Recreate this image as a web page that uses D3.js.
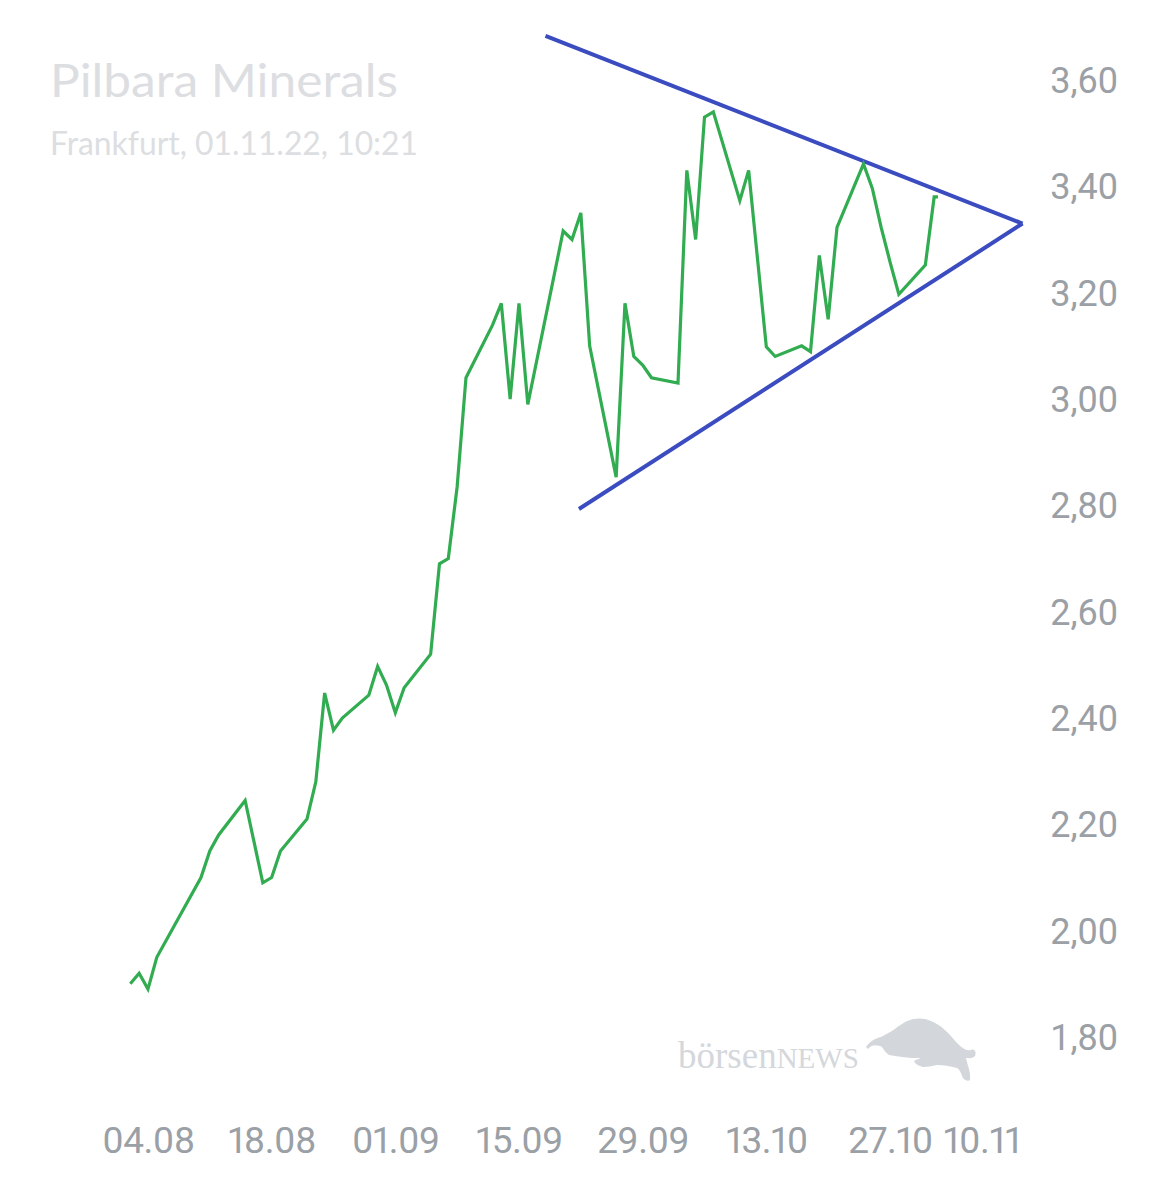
<!DOCTYPE html>
<html>
<head>
<meta charset="utf-8">
<script src="https://cdn.jsdelivr.net/npm/d3@7"></script>
<style>
  html, body { margin: 0; padding: 0; background: #fff; }
</style>
</head>
<body>
<div id="chart"></div>
<script>
// price series (Frankfurt), visible vertices of the line
var dates = ["2022-08-02","2022-08-03","2022-08-04","2022-08-05","2022-08-10","2022-08-11","2022-08-12",
	"2022-08-15","2022-08-17","2022-08-18","2022-08-19","2022-08-22","2022-08-23","2022-08-24","2022-08-25",
	"2022-08-26","2022-08-29","2022-08-30","2022-08-31","2022-09-01","2022-09-02","2022-09-05","2022-09-06",
	"2022-09-07","2022-09-08","2022-09-09","2022-09-12","2022-09-13","2022-09-14","2022-09-15","2022-09-16",
	"2022-09-20","2022-09-21","2022-09-22","2022-09-23","2022-09-26","2022-09-27","2022-09-28","2022-09-29",
	"2022-09-30","2022-10-03","2022-10-04","2022-10-05","2022-10-06","2022-10-07","2022-10-10","2022-10-11",
	"2022-10-13","2022-10-14","2022-10-17","2022-10-18","2022-10-19","2022-10-20","2022-10-21","2022-10-24",
	"2022-10-25","2022-10-26","2022-10-27","2022-10-28","2022-10-31","2022-11-01T00:00","2022-11-01T10:21"];
var prices = [1.90,1.92,1.89,1.95,2.10,2.15,2.18,
	2.245,2.09,2.10,2.15,2.21,2.28,2.447,2.377,
	2.40,2.443,2.497,2.462,2.41,2.457,2.52,2.69,
	2.70,2.835,3.04,3.139,3.18,3.00,3.18,2.99,
	3.316,3.30,3.35,3.10,2.853,3.18,3.08,3.064,
	3.04,3.03,3.43,3.30,3.53,3.54,3.373,3.43,
	3.098,3.08,3.10,3.089,3.27,3.15,3.323,3.442,
	3.396,3.323,3.258,3.197,3.252,3.38,3.38];

// triangle trend lines
var upperTrendDates = ["2022-09-18T00:00","2022-11-11T00:00"];
var upperTrendValues = [3.683, 3.330];
var lowerTrendDates = ["2022-09-21T19:00","2022-11-11T00:00"];
var lowerTrendValues = [2.793, 3.330];

var xTickDates = ["2022-08-04","2022-08-18","2022-09-01","2022-09-15","2022-09-29","2022-10-13","2022-10-27","2022-11-10"];
var yTickValues = [1.8, 2.0, 2.2, 2.4, 2.6, 2.8, 3.0, 3.2, 3.4, 3.6];

var titleText = "Pilbara Minerals";
var subtitleText = "Frankfurt, 01.11.22, 10:21";

var width = 1170, height = 1200;
var parse = function(s) { return new Date(s.length > 10 ? s : s + "T00:00"); };

var svg = d3.select("#chart").append("svg")
	.attr("width", width)
	.attr("height", height);

var xScale = d3.scaleTime()
	.domain([parse("2022-08-02"), parse("2022-11-11")])
	.range([130.3, 1022.5]);
var yScale = d3.scaleLinear()
	.domain([1.8, 3.6])
	.range([1037, 80]);

var fmtComma = function(v) { return d3.format(".2f")(v).replace(".", ","); };
var fmtDate = d3.timeFormat("%d.%m");

// title
svg.append("text")
	.attr("x", 50).attr("y", 97)
	.attr("font-family", "Lato, 'Noto Sans', sans-serif")
	.attr("font-size", 46)
	.attr("fill", "#dcdee2")
	.attr("textLength", 348)
	.attr("lengthAdjust", "spacingAndGlyphs")
	.text(titleText);
svg.append("text")
	.attr("x", 50).attr("y", 155)
	.attr("font-family", "Lato, 'Noto Sans', sans-serif")
	.attr("font-size", 32)
	.attr("fill", "#dcdee2")
	.attr("textLength", 368)
	.attr("lengthAdjust", "spacingAndGlyphs")
	.text(subtitleText);

// y axis on the right
var yAxis = d3.axisRight(yScale)
	.tickValues(yTickValues)
	.tickSize(0)
	.tickPadding(0)
	.tickFormat(fmtComma);
var gy = svg.append("g")
	.attr("class", "y-axis")
	.attr("transform", "translate(1118,0)")
	.call(yAxis);
gy.select(".domain").remove();
gy.selectAll(".tick text")
	.attr("text-anchor", "end")
	.attr("x", 0)
	.attr("dy", "0.35em")
	.attr("font-family", "Roboto, sans-serif")
	.attr("font-size", 36)
	.attr("fill", "#9aa0a6");

// x axis at bottom
var xAxis = d3.axisBottom(xScale)
	.tickValues(xTickDates.map(parse))
	.tickSize(0)
	.tickPadding(0)
	.tickFormat(fmtDate);
var gx = svg.append("g")
	.attr("class", "x-axis")
	.attr("transform", "translate(0,1153)")
	.call(xAxis);
gx.select(".domain").remove();
gx.selectAll(".tick text")
	.attr("dy", 0)
	.attr("y", 0)
	.attr("font-family", "Roboto, sans-serif")
	.attr("font-size", 37)
	.attr("letter-spacing", -0.5)
	.style("font-variant-numeric", "proportional-nums")
	.attr("fill", "#9aa0a6");
// keep the last label inside the plot
gx.selectAll(".tick").each(function(d) {
	var t = d3.select(this).select("text");
	var w = t.node().getComputedTextLength();
	var x = xScale(d);
	if (x + w / 2 > 1020) {
		t.attr("text-anchor", "end").attr("x", 1020 - x);
	}
});

// watermark logo
var logo = svg.append("g").attr("class", "logo");
logo.append("text")
	.attr("x", 678).attr("y", 1068)
	.attr("font-family", "'Liberation Serif', 'DejaVu Serif', serif")
	.attr("font-size", 37)
	.attr("fill", "#d4d7db")
	.text("börsen")
	.append("tspan")
	.attr("font-size", 29)
	.text("NEWS");
logo.append("path")
	.attr("d", "M866,1047 C870,1041 876,1038 881,1037 C885,1035 888,1033 892,1031 C899,1026 905,1021 913,1019 C919,1018 925,1018 931,1021 C941,1025 949,1033 956,1042 C962,1048 966,1051 971,1050 C974,1048 977,1052 975,1056 C972,1059 969,1058 966,1058 C967,1064 971,1072 970,1080 C967,1082 963,1079 962,1076 C961,1072 959,1069 957,1068 C950,1066 943,1065 937,1065 C932,1066 927,1067 923,1067 C919,1066 915,1064 914,1061 C917,1059 919,1059 921,1058 C917,1058 914,1058 912,1058 C908,1058 905,1057 902,1057 C897,1056 893,1056 889,1055 C886,1053 884,1050 882,1047 C878,1045 872,1044 868,1049 Z")
	.attr("fill", "#d3d6da");

// trend lines
function trendLine(ds, vs) {
	return ds.map(function(d, i) { return { date: parse(d), value: vs[i] }; });
}
var line = d3.line()
	.x(function(d) { return xScale(d.date); })
	.y(function(d) { return yScale(d.value); });

[trendLine(upperTrendDates, upperTrendValues), trendLine(lowerTrendDates, lowerTrendValues)].forEach(function(t) {
	svg.append("path")
		.datum(t)
		.attr("d", line)
		.attr("fill", "none")
		.attr("stroke", "#3a4cbf")
		.attr("stroke-width", 4)
		.attr("stroke-linecap", "butt");
});

// price line
var series = dates.map(function(d, i) { return { date: parse(d), value: prices[i] }; });
svg.append("path")
	.datum(series)
	.attr("d", line)
	.attr("fill", "none")
	.attr("stroke", "#31ac50")
	.attr("stroke-width", 3.2)
	.attr("stroke-linejoin", "miter");
</script>
</body>
</html>
